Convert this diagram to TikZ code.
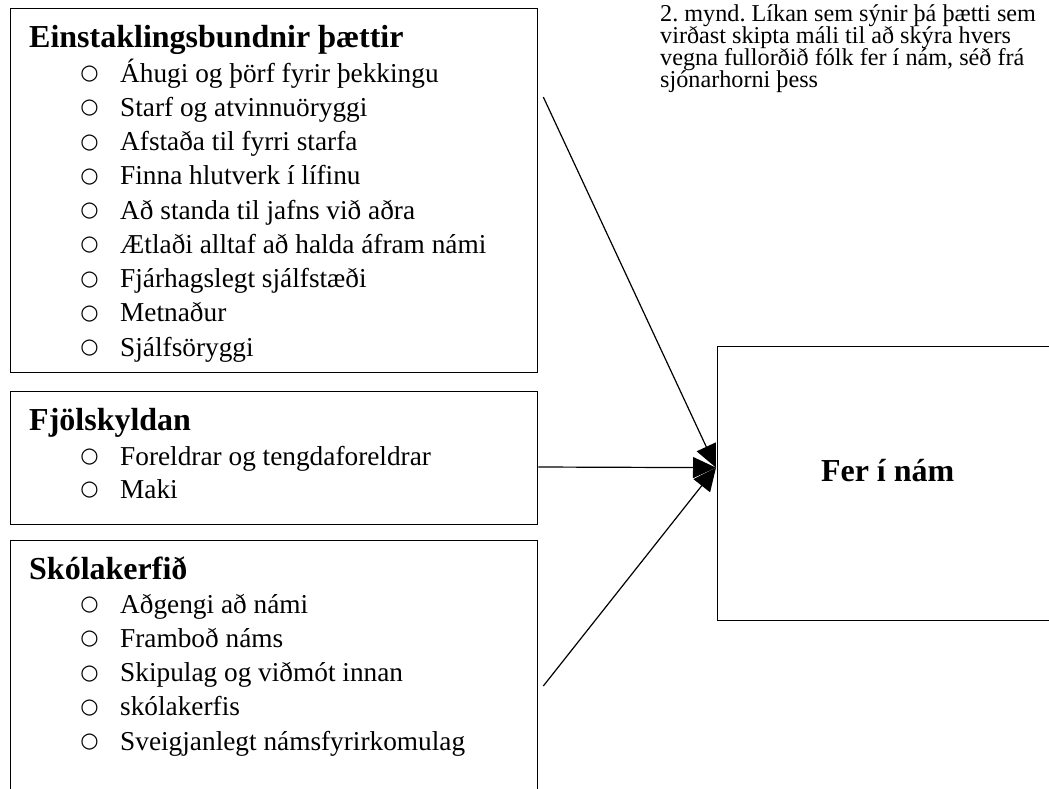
\documentclass[tikz,border=0pt]{standalone}
\usepackage{fontspec}
\setmainfont{Liberation Serif}
\newfontfamily\symfont{DejaVu Sans}
\usetikzlibrary{arrows.meta}
\frenchspacing
\newcommand\itbullet{\llap{\raisebox{2.5pt}{\symfont\fontsize{21}{21}\selectfont ○}\hspace{21.5pt}}}
\newcommand\capfont{\fontsize{24.2}{22}\selectfont\setlength{\lineskiplimit}{-20pt}}
\begin{document}
\begin{tikzpicture}[x=1pt,y=-1pt,
  box/.style={draw, line width=1.3pt, inner sep=0pt, anchor=north west},
  ttl/.style={anchor=base west, inner sep=0pt, font=\fontsize{32}{38}\selectfont\bfseries},
  itm/.style={anchor=base west, inner sep=0pt, font=\fontsize{27.3}{34}\selectfont},
  arr/.style={line width=1.2pt, -{Triangle[length=23pt,width=21pt]}}]
\useasboundingbox (0,0) rectangle (1049,788);
% boxes
\node[box, minimum width=527.5pt, minimum height=364pt] (b1) at (9.5,8) {};
\node[box, minimum width=527.5pt, minimum height=133pt] (b2) at (9.5,391) {};
\node[box, minimum width=527.5pt, minimum height=290pt] (b3) at (9.5,540) {};
\node[box, minimum width=340pt, minimum height=274pt, text height=22pt, text depth=26pt,
      font=\fontsize{32}{38}\selectfont\bfseries] (fer) at (717,346) {Fer í nám};
% titles
\node[ttl] (t1) at (29,47) {Einstaklingsbundnir þættir};
\node[ttl] (t2) at (29,430) {Fjölskyldan};
\node[ttl] (t3) at (29,579) {Skólakerfið};
% items
\foreach \t [count=\i] in {Áhugi og þörf fyrir þekkingu, Starf og atvinnuöryggi,
  Afstaða til fyrri starfa, Finna hlutverk í lífinu, Að standa til jafns við aðra,
  Ætlaði alltaf að halda áfram námi, Fjárhagslegt sjálfstæði, Metnaður, Sjálfsöryggi}
  \node[itm] (a\i) at (120,{82+34.25*(\i-1)}) {\itbullet\t};
\foreach \t [count=\i] in {Foreldrar og tengdaforeldrar, Maki}
  \node[itm] (f\i) at (120,{465+33*(\i-1)}) {\itbullet\t};
\foreach \t [count=\i] in {Aðgengi að námi, Framboð náms, Skipulag og viðmót innan,
  skólakerfis, Sveigjanlegt námsfyrirkomulag}
  \node[itm] (s\i) at (120,{613+34.25*(\i-1)}) {\itbullet\t};
% caption
\node[anchor=north west, inner sep=0pt, align=left, font=\capfont] (cap) at (660,4)
  {2. mynd. Líkan sem sýnir þá þætti sem\\
   virðast skipta máli til að skýra hvers\\
   vegna fullorðið fólk fer í nám, séð frá\\
   sjónarhorni þess};
% connectors
\coordinate (s1) at ([xshift=5pt]b1.east |- 0,97);
\coordinate (s2) at (b2.east |- 0,467);
\coordinate (s3) at ([xshift=5pt]b3.east |- 0,686);
\coordinate (tip) at ([xshift=-1pt,yshift=16pt]fer.west);
\draw[arr] (s1) -- (tip);
\draw[arr] (s2) -- (tip);
\draw[arr] (s3) -- (tip);
\end{tikzpicture}
\end{document}
